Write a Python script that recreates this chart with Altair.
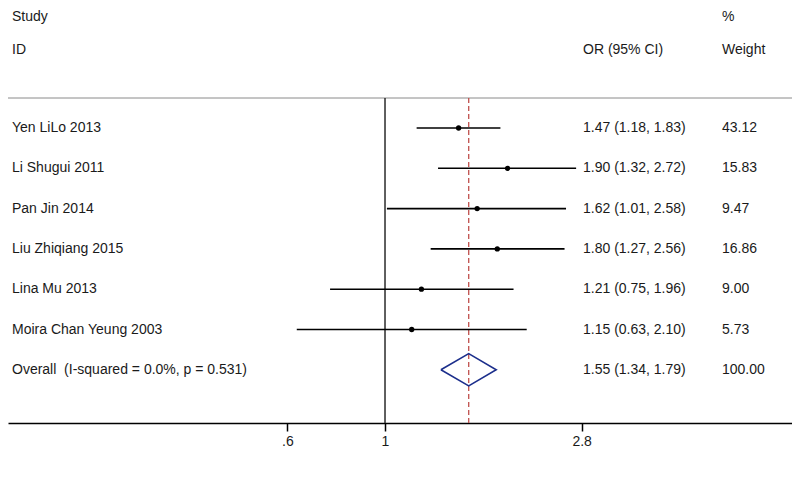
import altair as alt
import pandas as pd

# ---- data ----
studies = ["Yen LiLo 2013", "Li Shugui 2011", "Pan Jin 2014", "Liu Zhiqiang 2015",
           "Lina Mu 2013", "Moira Chan Yeung 2003"]
or_est = [1.47, 1.90, 1.62, 1.80, 1.21, 1.15]
ci_low = [1.18, 1.32, 1.01, 1.27, 0.75, 0.63]
ci_high = [1.83, 2.72, 2.58, 2.56, 1.96, 2.10]
weights = ["43.12", "15.83", "9.47", "16.86", "9.00", "5.73"]

overall_label = "Overall\u00a0 (I-squared = 0.0%, p = 0.531)"
overall_est = 1.55
overall_low = 1.34
overall_high = 1.79
overall_weight = "100.00"

tick_values = [0.6, 1, 2.8]
tick_labels = [".6", "1", "2.8"]

FONT = "Arial, Liberation Sans, Helvetica, sans-serif"
FS = 14
TXT = "#1a1a1a"

rows = list(range(len(studies)))
df = pd.DataFrame({
    "row": rows,
    "study": studies,
    "est": or_est,
    "lo": ci_low,
    "hi": ci_high,
    "ci": [f"{e:.2f} ({l:.2f}, {h:.2f})" for e, l, h in zip(or_est, ci_low, ci_high)],
    "w": weights,
})
ov_row = len(studies)
df_ov = pd.DataFrame({
    "row": [ov_row],
    "study": [overall_label],
    "ci": [f"{overall_est:.2f} ({overall_low:.2f}, {overall_high:.2f})"],
    "w": [overall_weight],
})
df_text = pd.concat([df[["row", "study", "ci", "w"]], df_ov], ignore_index=True)

half = 0.4  # half-height of diamond in row units
df_dia = pd.DataFrame({
    "x": [overall_low, overall_est, overall_high, overall_est, overall_low],
    "row": [ov_row, ov_row - half, ov_row, ov_row + half, ov_row],
    "ord": [0, 1, 2, 3, 4],
})

label_expr = " : ".join(
    f"datum.value == {v} ? '{l}'" for v, l in zip(tick_values, tick_labels)
) + " : ''"

x_scale = alt.Scale(type="log", domain=[0.1389, 8.423], nice=False)
y_scale = alt.Scale(domain=[-2.779, 7.32], reverse=True, nice=False, zero=False)

x_axis = alt.Axis(values=tick_values, labelExpr=label_expr, title=None, grid=False,
                  domainColor="black", domainWidth=1.5, tickColor="black", tickWidth=1.5,
                  tickSize=8, labelFontSize=FS, labelColor=TXT, labelFont=FONT,
                  labelPadding=3, labelFlush=False, orient="bottom")


def X(field):
    return alt.X(field, type="quantitative", scale=x_scale, axis=x_axis)


def Y(field="row"):
    return alt.Y(field, type="quantitative", scale=y_scale, axis=None)


TOP_Y = 82   # header line (chart px)
BOT_Y = 407  # axis line (chart px)

ref1 = alt.Chart(pd.DataFrame({"v": [1]})).mark_rule(color="#2b2b2b", strokeWidth=1.5).encode(
    x=X("v"), y=alt.value(TOP_Y), y2=alt.value(BOT_Y))

refov = alt.Chart(pd.DataFrame({"v": [overall_est]})).mark_rule(
    color="#c0504d", strokeWidth=1.3, strokeDash=[5, 3]).encode(
    x=X("v"), y=alt.value(TOP_Y), y2=alt.value(BOT_Y))

header_line = alt.Chart(pd.DataFrame({"a": [0]})).mark_rule(color="#8a8a8a", strokeWidth=1).encode(
    x=alt.value(0), x2=alt.value(784), y=alt.value(TOP_Y))

ci = alt.Chart(df).mark_rule(color="black", strokeWidth=1.6).encode(
    x=X("lo"), x2="hi", y=Y())

pts = alt.Chart(df).mark_point(filled=True, color="black", size=28, opacity=1).encode(
    x=X("est"), y=Y())

dia = alt.Chart(df_dia).mark_line(color="#1c2f8c", strokeWidth=1.6).encode(
    x=X("x"), y=Y(), order="ord:Q")

txt_kw = dict(align="left", baseline="middle", font=FONT, fontSize=FS, color=TXT)
t_study = alt.Chart(df_text).mark_text(**txt_kw).encode(x=alt.value(4), y=Y(), text="study:N")
t_ci = alt.Chart(df_text).mark_text(**txt_kw).encode(x=alt.value(575), y=Y(), text="ci:N")
t_w = alt.Chart(df_text).mark_text(**txt_kw).encode(x=alt.value(714), y=Y(), text="w:N")


def htext(label, xp, yp):
    return alt.Chart(pd.DataFrame({"t": [label]})).mark_text(**txt_kw).encode(
        x=alt.value(xp), y=alt.value(yp), text="t:N")


headers = (htext("Study", 4, 1) + htext("ID", 4, 34) + htext("OR (95% CI)", 575, 34)
           + htext("%", 714, 1) + htext("Weight", 714, 34))

chart = alt.layer(
    header_line, ref1, refov, ci, pts, dia, t_study, t_ci, t_w, headers
).properties(
    width=784, height=BOT_Y,
    background="white",
    autosize=alt.AutoSizeParams(type="none"),
    padding={"left": 0, "top": 8, "right": 0, "bottom": 45},
).configure_view(strokeWidth=0)

chart.save("out.html", embed_options={"renderer": "svg", "actions": False})
